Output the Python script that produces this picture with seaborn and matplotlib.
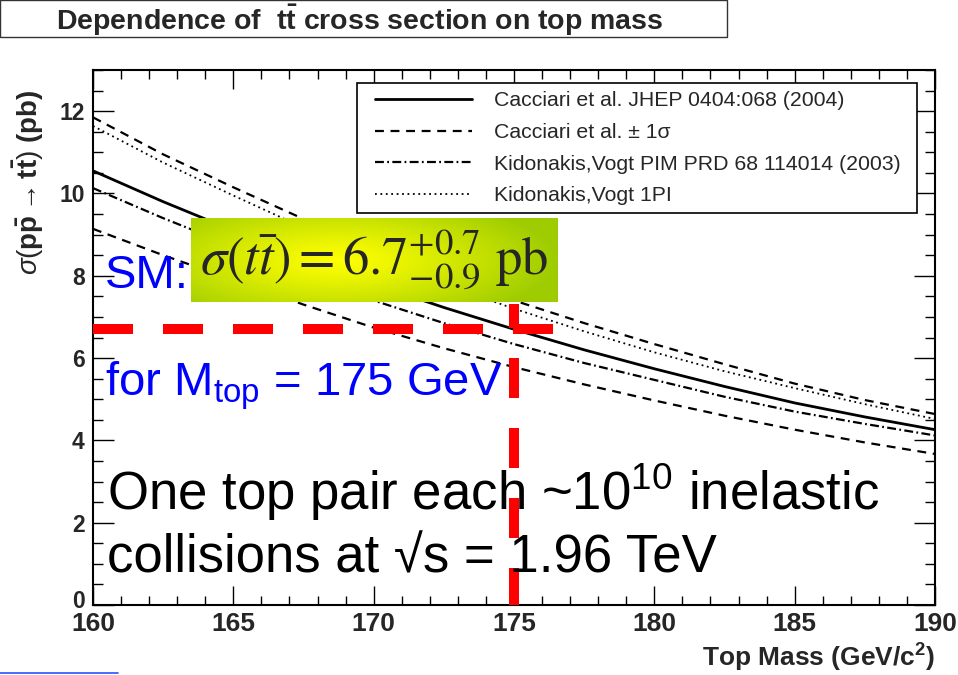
import numpy as np
import seaborn as sns
import matplotlib.pyplot as plt
import matplotlib.transforms as mtransforms
from matplotlib.patches import Rectangle
from matplotlib.lines import Line2D
from matplotlib.ticker import MultipleLocator

# top mass grid (GeV/c^2) and cross sections (pb)
mass = [160.0, 162.5, 165.0, 167.5, 170.0, 172.5, 175.0, 177.5, 180.0, 182.5, 185.0, 187.5, 190.0]
cacciari = [10.55, 9.80, 9.10, 8.42, 7.80, 7.23, 6.70, 6.20, 5.74, 5.31, 4.91, 4.57, 4.26]
cacciari_up = [11.85, 10.95, 10.15, 9.38, 8.68, 8.02, 7.40, 6.85, 6.34, 5.85, 5.38, 4.98, 4.64]
cacciari_dn = [9.14, 8.50, 7.90, 7.30, 6.74, 6.24, 5.78, 5.36, 4.97, 4.60, 4.26, 3.95, 3.67]
kv_pim = [10.13, 9.40, 8.72, 8.02, 7.40, 6.85, 6.34, 5.88, 5.47, 5.06, 4.70, 4.40, 4.12]
kv_1pi = [11.64, 10.75, 9.95, 9.17, 8.46, 7.80, 7.20, 6.65, 6.14, 5.68, 5.27, 4.88, 4.52]

labels = ['Cacciari et al. JHEP 0404:068 (2004)',
          'Cacciari et al. \u00b1 1\u03c3',
          'Kidonakis,Vogt PIM PRD 68 114014 (2003)',
          'Kidonakis,Vogt 1PI']

sm_xsec = 6.7
sm_mtop = 175.0

sns.set_style('ticks')
plt.rcParams['font.family'] = ['Liberation Sans', 'DejaVu Sans']
plt.rcParams['mathtext.fontset'] = 'custom'
plt.rcParams['mathtext.rm'] = 'Liberation Sans'
plt.rcParams['mathtext.it'] = 'Liberation Sans:italic'
plt.rcParams['mathtext.bf'] = 'Liberation Sans:bold'

W, H = 958, 675
fig = plt.figure(figsize=(W / 100, H / 100), dpi=100)
ax = fig.add_axes([93 / W, 70 / H, 842 / W, 535 / H])

curves = [
    (cacciari, labels[0], dict(linewidth=2.0, linestyle='-')),
    (cacciari_up, labels[1], dict(linewidth=1.6, linestyle=(0, (4, 3)))),
    (cacciari_dn, labels[1], dict(linewidth=1.6, linestyle=(0, (4, 3)))),
    (kv_pim, labels[2], dict(linewidth=1.6, linestyle=(0, (4, 1.5, 0.8, 1.5)))),
    (kv_1pi, labels[3], dict(linewidth=1.3, linestyle=(0, (1, 2)))),
]
for vals, lab, kw in curves:
    sns.lineplot(x=mass, y=vals, ax=ax, color='k', label=lab, **kw)

ax.set_xlim(160, 190)
ax.set_ylim(0, 13)
ax.xaxis.set_major_locator(MultipleLocator(5))
ax.xaxis.set_minor_locator(MultipleLocator(1))
ax.yaxis.set_major_locator(MultipleLocator(2))
ax.yaxis.set_minor_locator(MultipleLocator(0.5))
ax.tick_params(which='both', direction='in', top=True, right=True,
               width=1.0, color='k')
ax.tick_params(axis='x', which='major', length=13.5, pad=5, labelsize=19)
ax.tick_params(axis='x', which='minor', length=6.5)
ax.tick_params(axis='y', which='major', length=15, pad=6, labelsize=16.5)
ax.tick_params(axis='y', which='minor', length=7)
for t in ax.get_xticklabels() + ax.get_yticklabels():
    t.set_fontweight('bold')
for s in ax.spines.values():
    s.set_color('k')
    s.set_linewidth(1.5)

ax.set_xlabel('Top Mass (GeV/c$^{\\mathbf{2}}$)', fontsize=19,
              fontweight='bold', loc='right')
ax.xaxis.set_label_coords(1.0, -0.068)
ax.set_ylabel(r'$\sigma(\mathbf{p\bar{p}} \rightarrow \mathbf{t\bar{t}})$ (pb)',
              fontsize=20, fontweight='bold', loc='top')
ax.yaxis.set_label_coords(-0.056, 0.9626)

handles, labs = ax.get_legend_handles_labels()
seen = {}
for h, l in zip(handles, labs):
    if l not in seen:
        seen[l] = h
leg = ax.legend(list(seen.values()), list(seen.keys()),
                loc='upper left', bbox_to_anchor=(375 / W, 1 - 91.5 / H),
                bbox_transform=fig.transFigure, borderaxespad=0,
                fontsize=15.3, handlelength=4.56, handletextpad=1.04,
                labelspacing=0.59, borderpad=0, frameon=False)
leg.set_zorder(6)
# legend frame drawn separately so the side margins match
ax.add_patch(Rectangle((357 / W, 1 - 213 / H), 560 / W, 130 / H,
                       transform=fig.transFigure, facecolor='white',
                       edgecolor='k', linewidth=1.2, zorder=5.5))

# red guide lines at the SM point
ax.plot([160, 176.4], [sm_xsec, sm_xsec], color='red', linewidth=7.2,
        linestyle=(0, (4, 3)), dash_capstyle='butt', zorder=4)
ax.plot([sm_mtop, sm_mtop], [7.31, 0], color='red', linewidth=7.2,
        linestyle=(1.6, (4, 3)), dash_capstyle='butt', zorder=4)

blue = '#0000ff'
ax.text(160.43, 7.70, 'SM:', color=blue, fontsize=34, zorder=5)
ax.text(160.43, 5.08, r'for M$_{\mathrm{top}}$ = 175 GeV', color=blue,
        fontsize=34, zorder=5)
ax.text(160.5, 2.30, r'One top pair each ~10$^{\mathrm{10}}$ inelastic',
        color='k', fontsize=38, zorder=5)
ax.text(160.5, 0.80, 'collisions at \u221as = 1.96 TeV',
        color='k', fontsize=38, zorder=5)

# green gradient box with the cross section value
gax = fig.add_axes([191 / W, 1 - 302 / H, 367 / W, 84 / H], zorder=3)
gx, gy = np.meshgrid(np.linspace(0, 1, 300), np.linspace(0, 1, 80))
d = np.clip(np.sqrt(((gx - 0.4) / 0.6) ** 2 + ((gy - 0.5) / 0.8) ** 2), 0, 1)
yel = np.array([1.0, 1.0, 0.0])
grn = np.array([0.62, 0.80, 0.0])
img = yel * (1 - d[..., None] ** 1.2) + grn * d[..., None] ** 1.2
gax.imshow(img, aspect='auto', extent=[0, 1, 0, 1])
gax.axis('off')
fig.text((191 + 558) / 2 / W, 1 - 260 / H,
         r'$\sigma(t\bar{t}) = 6.7^{+0.7}_{-0.9}\ \mathrm{pb}$',
         math_fontfamily='stix', fontsize=38, ha='center', va='center',
         zorder=6)

# title box
fig.add_artist(Rectangle((0, 1 - 37 / H), 727 / W, 37 / H,
                         transform=fig.transFigure, fill=False,
                         edgecolor='0.2', linewidth=1.0))
fig.text(360 / W, 1 - 20 / H,
         r'Dependence of  $\mathbf{t\bar{t}}$ cross section on top mass',
         fontsize=20.5, fontweight='bold', ha='center', va='center')

fig.add_artist(Line2D([0, 118 / W], [1 - 673 / H] * 2,
                      transform=fig.transFigure, color='#2255ff', linewidth=1.2))

# raise the "0" label a little, as ROOT does, so it clears "160"
fig.canvas.draw()
for tick in ax.yaxis.get_major_ticks():
    if abs(tick.get_loc()) < 1e-9:
        lbl = tick.label1
        lbl.set_verticalalignment('bottom')
        lbl.set_transform(lbl.get_transform() +
                          mtransforms.ScaledTranslation(0, -6 / 72, fig.dpi_scale_trans))

fig.savefig('out.png', dpi=100)
